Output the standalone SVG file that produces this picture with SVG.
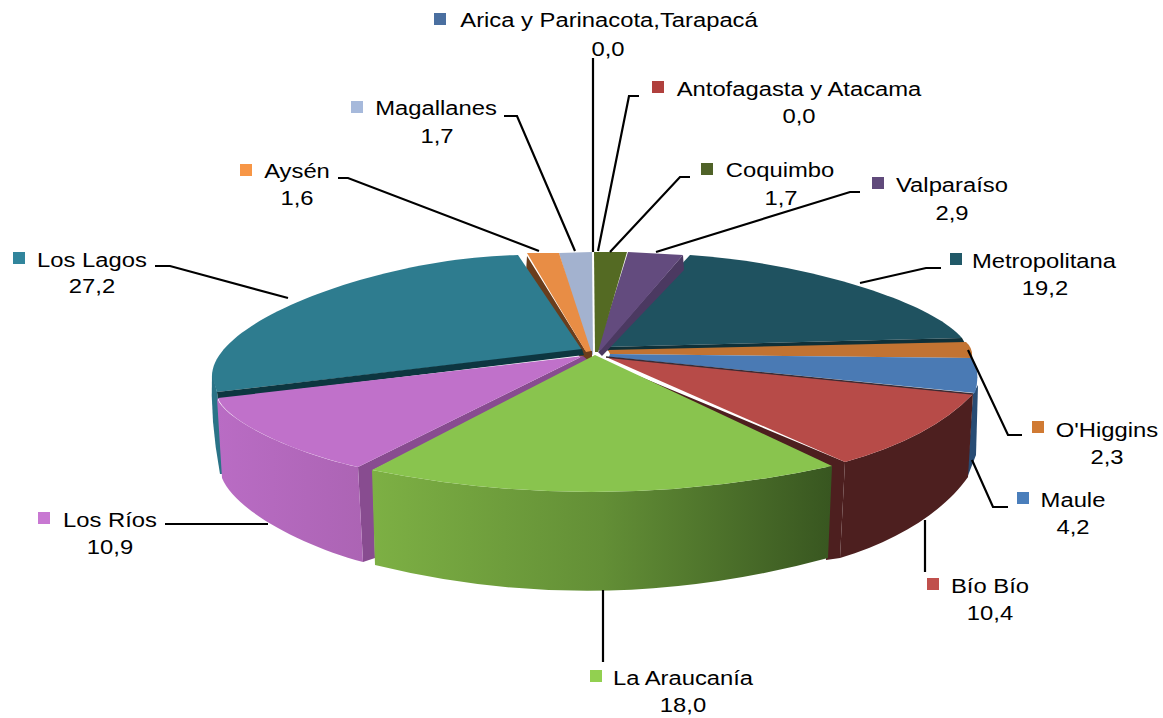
<svg xmlns="http://www.w3.org/2000/svg" width="1163" height="718" viewBox="0 0 1163 718">
<defs>
<style>
.lbl{font-family:"Liberation Sans",Arial,sans-serif;font-size:20px;fill:#000;text-anchor:middle}
.lead{fill:none;stroke:#000;stroke-width:2.2}
</style>
<linearGradient id="gAra" x1="372" y1="0" x2="832" y2="0" gradientUnits="userSpaceOnUse">
<stop offset="0" stop-color="#7DB044"/><stop offset="0.5" stop-color="#638F36"/><stop offset="1" stop-color="#385620"/>
</linearGradient>
<linearGradient id="gRios" x1="217" y1="0" x2="363" y2="0" gradientUnits="userSpaceOnUse">
<stop offset="0" stop-color="#B96CC4"/><stop offset="1" stop-color="#AC64B4"/>
</linearGradient>
</defs>
<rect width="1163" height="718" fill="#fff"/>

<g id="slice-metropolitana">
<path d="M690,255 C800,262 930,300 962,338 L605,347 Z" fill="#1F5260"/>
<path d="M605,347 L962,338 L966,345 L608,351 Z" fill="#0F3038"/>
</g>
<g id="slice-valparaiso">
<path d="M683,255 L684,270 L602,356 L598,352 Z" fill="#4B3961"/>
<path d="M628,252 L683,255 L601,350 L597,351 Z" fill="#634B7E"/>
</g>
<g id="slice-coquimbo">
<path d="M594,252 L627,252 L598,352 L595,352 Z" fill="#546A23"/>
</g>
<g id="slice-magallanes">
<path d="M559,253 L592,252 L593,355 L589,353 Z" fill="#A3B2CF"/>
</g>
<g id="slice-aysen">
<path d="M527,256 L585,350 L592,351 L592,364 L583,362 L526,272 Z" fill="#6A3D1C"/>
<path d="M527,253 L559,253 L591,351 L586,352 Z" fill="#E88D45"/>
</g>
<g id="slice-ohiggins">
<path d="M608,350 L966,342 Q973,348 972,358 L610,354 Z" fill="#C27332"/>
</g>
<g id="slice-maule">
<path d="M973,394 L978,385 L976,455 L967,478 Z" fill="#284C74"/>
<path d="M610,354 L972,358 Q981,372 975,393 L609,357 Z" fill="#4A7AB4"/>
</g>
<g id="slice-losl">
<path d="M212,372 Q210,420 220,474 L228,474 L217,392 Z" fill="#2A7387"/>
<path d="M518,255 C380,258 212,320 212,376 L217,392 L582,350 Z" fill="#2E7C8F"/>
<path d="M217,392 L582,349 L584,355 L218,399 Z" fill="#0D3640"/>
</g>
<g id="slice-biobio">
<path d="M600,360 L845,462 L840,558 L826,560 L829,467 L598,363 Z" fill="#4D1F1F"/>
<path d="M973,394 Q931,438 845,462 L840,558 C900,540 945,510 968,477 Z" fill="#4D1F1F"/>
<path d="M606,357 L973,394 Q931,438 845,462 Z" fill="#B74B48"/>
<path d="M606,357 L973,394" stroke="#3A2A33" stroke-width="1.5" fill="none"/>
</g>
<g id="slice-losrios">
<path d="M358,467 L583,356 L590,362 L373,470 L375,558 L363,562 Z" fill="#884C90"/>
<path d="M217,398 C225,420 290,452 358,467 L363,562 C300,545 235,510 222,478 Z" fill="url(#gRios)"/>
<path d="M218,398 L583,356 L358,467 C290,452 225,420 218,398 Z" fill="#C071CA"/>
</g>
<g id="slice-araucania">
<path d="M372,470 Q600,516 832,466 L828,558 Q600,620 375,565 Z" fill="url(#gAra)"/>
<path d="M595,355 L372,470 Q600,516 832,466 Z" fill="#89C44E"/>
</g>

<g id="connectors">
<polyline class="lead" points="593,58 593,252"/>
<polyline class="lead" points="639,96 629,96 598,251"/>
<polyline class="lead" points="504,116 517,116 575,251"/>
<polyline class="lead" points="338,178 348,178 539,251"/>
<polyline class="lead" points="690,177 680,177 610,252"/>
<polyline class="lead" points="860,192 850,192 656,252"/>
<polyline class="lead" points="941,268 926,268 860,283"/>
<polyline class="lead" points="155,266 170,266 288,298"/>
<polyline class="lead" points="968,350 1008,435 1022,435"/>
<polyline class="lead" points="972,460 993,507 1008,507"/>
<polyline class="lead" points="925,520 925,572"/>
<polyline class="lead" points="603,590 603,662"/>
<polyline class="lead" points="165,524 268,524"/>
</g>

<g id="label-arica">
<rect x="434" y="13" width="12" height="12" fill="#4A6FA0"/>
<text class="lbl" transform="translate(609,27) scale(1.19,1)">Arica y Parinacota,Tarapacá</text>
<text class="lbl" transform="translate(608,56) scale(1.19,1)">0,0</text>
</g>
<g id="label-antofagasta">
<rect x="652" y="81" width="12" height="12" fill="#B0403D"/>
<text class="lbl" transform="translate(799,96) scale(1.19,1)">Antofagasta y Atacama</text>
<text class="lbl" transform="translate(799,123) scale(1.19,1)">0,0</text>
</g>
<g id="label-magallanes">
<rect x="351" y="101" width="12" height="12" fill="#A6B9DB"/>
<text class="lbl" transform="translate(436,115) scale(1.19,1)">Magallanes</text>
<text class="lbl" transform="translate(437,143) scale(1.19,1)">1,7</text>
</g>
<g id="label-aysen">
<rect x="240" y="164" width="12" height="12" fill="#F79646"/>
<text class="lbl" transform="translate(297,178) scale(1.19,1)">Aysén</text>
<text class="lbl" transform="translate(297,205) scale(1.19,1)">1,6</text>
</g>
<g id="label-coquimbo">
<rect x="701" y="163" width="12" height="12" fill="#4F6228"/>
<text class="lbl" transform="translate(780,177) scale(1.19,1)">Coquimbo</text>
<text class="lbl" transform="translate(781,205) scale(1.19,1)">1,7</text>
</g>
<g id="label-valparaiso">
<rect x="872" y="177" width="12" height="12" fill="#604A7B"/>
<text class="lbl" transform="translate(952,192) scale(1.19,1)">Valparaíso</text>
<text class="lbl" transform="translate(952,220) scale(1.19,1)">2,9</text>
</g>
<g id="label-metropolitana">
<rect x="950" y="253" width="12" height="12" fill="#215968"/>
<text class="lbl" transform="translate(1044,268) scale(1.19,1)">Metropolitana</text>
<text class="lbl" transform="translate(1045,295) scale(1.19,1)">19,2</text>
</g>
<g id="label-loslagos">
<rect x="13" y="252" width="12" height="12" fill="#31859C"/>
<text class="lbl" transform="translate(92,267) scale(1.19,1)">Los Lagos</text>
<text class="lbl" transform="translate(92,293) scale(1.19,1)">27,2</text>
</g>
<g id="label-ohiggins">
<rect x="1032" y="421" width="12" height="12" fill="#D07A33"/>
<text class="lbl" transform="translate(1107,437) scale(1.19,1)">O'Higgins</text>
<text class="lbl" transform="translate(1107,464) scale(1.19,1)">2,3</text>
</g>
<g id="label-maule">
<rect x="1017" y="492" width="12" height="12" fill="#4A7EBB"/>
<text class="lbl" transform="translate(1073,507) scale(1.19,1)">Maule</text>
<text class="lbl" transform="translate(1073,534) scale(1.19,1)">4,2</text>
</g>
<g id="label-biobio">
<rect x="927" y="578" width="12" height="12" fill="#C0504D"/>
<text class="lbl" transform="translate(990,593) scale(1.19,1)">Bío Bío</text>
<text class="lbl" transform="translate(990,620) scale(1.19,1)">10,4</text>
</g>
<g id="label-araucania">
<rect x="590" y="670" width="12" height="12" fill="#92D050"/>
<text class="lbl" transform="translate(683,685) scale(1.19,1)">La Araucanía</text>
<text class="lbl" transform="translate(683,712) scale(1.19,1)">18,0</text>
</g>
<g id="label-losrios">
<rect x="38" y="512" width="12" height="12" fill="#C878D2"/>
<text class="lbl" transform="translate(110,527) scale(1.19,1)">Los Ríos</text>
<text class="lbl" transform="translate(110,554) scale(1.19,1)">10,9</text>
</g>
</svg>
